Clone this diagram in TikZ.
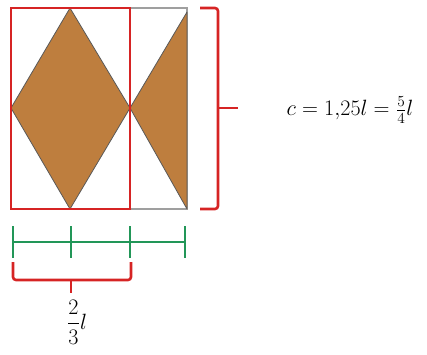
\documentclass[tikz,border=0pt]{standalone}
\usepackage{amsmath}
\usepackage{graphicx}
\usepackage{tikz}
\usetikzlibrary{calc,positioning}
\definecolor{mybrown}{RGB}{190,126,62}
\definecolor{myred}{RGB}{214,36,36}
\definecolor{mygreen}{RGB}{34,150,88}
\newcommand{\biglbl}[1]{\scalebox{1.28}{#1}}
\begin{document}
\begin{tikzpicture}[
		x=1pt, y=-1pt,
		frame/.style={draw=gray!75, line width=1.3pt},
		piece/.style={fill=mybrown, draw=black!65, line width=0.8pt, line join=round},
		half/.style={draw=myred, line width=2.6pt},
		ruler/.style={draw=mygreen, line width=2.6pt},
		bracket/.style={draw=myred, line width=2.6pt, rounded corners=3pt},
		lbl/.style={font=\LARGE, inner sep=0pt}
	]
	\useasboundingbox (0,0) rectangle (427,354);

	% Corners
	\coordinate (tl) at (11,8);
	\coordinate (br) at (187,209);
	\coordinate (top) at (70,8);
	\coordinate (left) at (11,108);
	\coordinate (bot) at (70,209);
	\coordinate (mid) at (130,108);
	\coordinate (rt) at (187,12);
	\coordinate (rb) at (187,209);

	% Shapes
	\draw[frame] (tl) rectangle (br);
	\draw[piece] (top) -- (left) -- (bot) -- (mid) -- cycle;
	\draw[piece] (mid) -- (rt) -- (rb) -- cycle;
	\draw[half] (tl) rectangle (130,209);

	% Ruler
	\draw[ruler] (13,242) -- (185,242);
	\foreach \x in {13,71,130,185}
		\draw[ruler] (\x,226) -- (\x,258);

	% Labels
	\node[lbl] (clen) at (350,110) {\biglbl{$c=1{,}25l=\frac{5}{4}l$}};
	\node[lbl] (frac) at (77,322) {\biglbl{$\dfrac{2}{3}l$}};

	% Brackets
	\draw[bracket] (200,8) -- (218,8) -- (218,209) -- (200,209);
	\coordinate (rtip) at (238,108);
	\draw[bracket] (218,108) -- (rtip);
	\draw[bracket] (13,262) -- (13,280) -- (131,280) -- (131,262);
	\coordinate (btip) at (71,293);
	\draw[bracket] (71,280) -- (btip);
\end{tikzpicture}
\end{document}
